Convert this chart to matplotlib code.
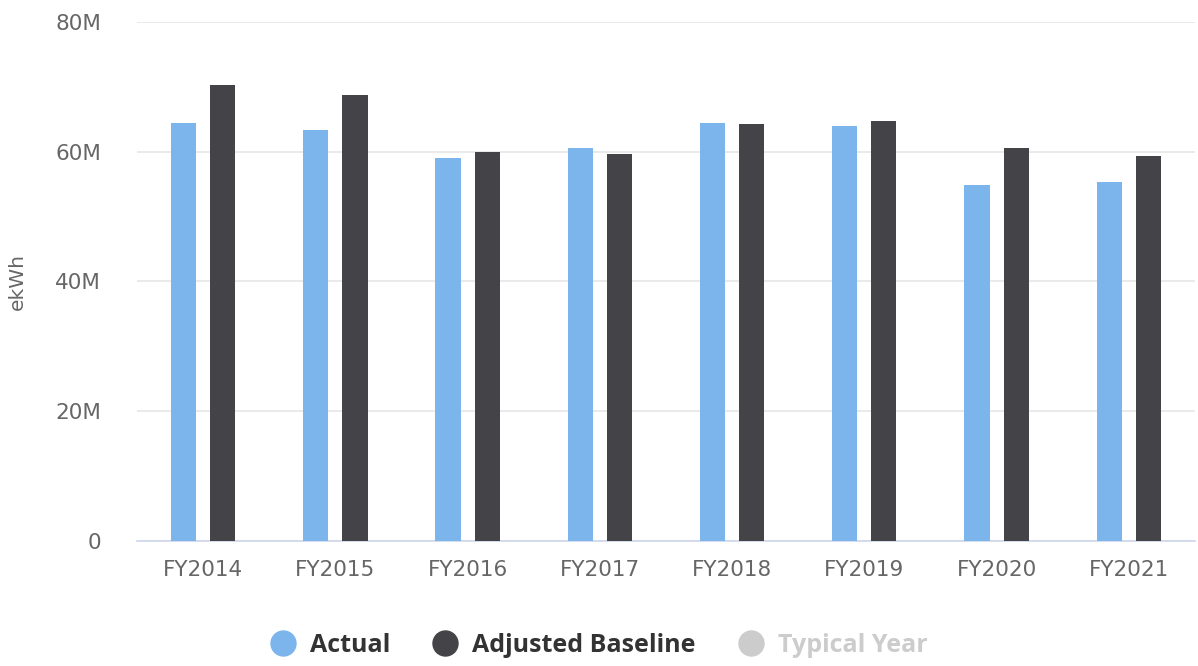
import matplotlib
matplotlib.use("Agg")
import matplotlib.pyplot as plt
from matplotlib.lines import Line2D
import numpy as np

# ── Data ────────────────────────────────────────────────────────────────
years = ["FY2014", "FY2015", "FY2016", "FY2017", "FY2018", "FY2019", "FY2020", "FY2021"]
actual = [64.5, 63.4, 59.1, 60.6, 64.5, 63.9, 54.9, 55.3]          # millions ekWh
adjusted_baseline = [70.3, 68.8, 60.0, 59.7, 64.2, 64.8, 60.6, 59.4]
y_ticks = [0, 20, 40, 60, 80]
y_tick_labels = ["0", "20M", "40M", "60M", "80M"]

ACTUAL_COLOR = "#7cb5ec"
BASELINE_COLOR = "#434348"
TYPICAL_COLOR = "#cccccc"

plt.rcParams["font.family"] = ["DejaVu Sans"]

fig = plt.figure(figsize=(11.98, 6.66), dpi=100)
ax = fig.add_axes([0.1144, 0.1877, 0.883, 0.7793])

x = np.arange(len(years))
width = 0.19
offset = 0.148
ax.bar(x - offset, actual, width, color=ACTUAL_COLOR, zorder=3)
ax.bar(x + offset, adjusted_baseline, width, color=BASELINE_COLOR, zorder=3)

ax.set_xlim(-0.5, len(years) - 0.5)
ax.set_ylim(0, 80)
ax.set_yticks(y_ticks)
ax.set_yticklabels(y_tick_labels)
ax.set_xticks(x)
ax.set_xticklabels(years)

ax.grid(axis="y", color="#e6e6e6", linewidth=1.2, zorder=0)
for side in ["top", "right", "left"]:
    ax.spines[side].set_visible(False)
ax.spines["bottom"].set_color("#ccd6eb")
ax.spines["bottom"].set_linewidth(1.2)
ax.tick_params(axis="both", length=0, labelsize=15.5, colors="#666666")
ax.tick_params(axis="x", pad=14)
ax.tick_params(axis="y", pad=26)

ax.set_ylabel("ekWh", fontsize=14.5, color="#666666", labelpad=20)

# legend: round markers, "Typical Year" shown greyed out (hidden series)
handles = [
    Line2D([], [], marker="o", linestyle="none", markersize=18, color=ACTUAL_COLOR),
    Line2D([], [], marker="o", linestyle="none", markersize=18, color=BASELINE_COLOR),
    Line2D([], [], marker="o", linestyle="none", markersize=18, color=TYPICAL_COLOR),
]
leg = fig.legend(
    handles,
    ["Actual", "Adjusted Baseline", "Typical Year"],
    loc="center",
    bbox_to_anchor=(0.5, 0.031),
    ncol=3,
    frameon=False,
    handlelength=1.0,
    handletextpad=0.58,
    columnspacing=1.7,
    prop={"family": "Open Sans", "size": 18, "weight": "bold"},
)
for text, col in zip(leg.get_texts(), ["#333333", "#333333", TYPICAL_COLOR]):
    text.set_color(col)

fig.savefig("out.png", dpi=100)
